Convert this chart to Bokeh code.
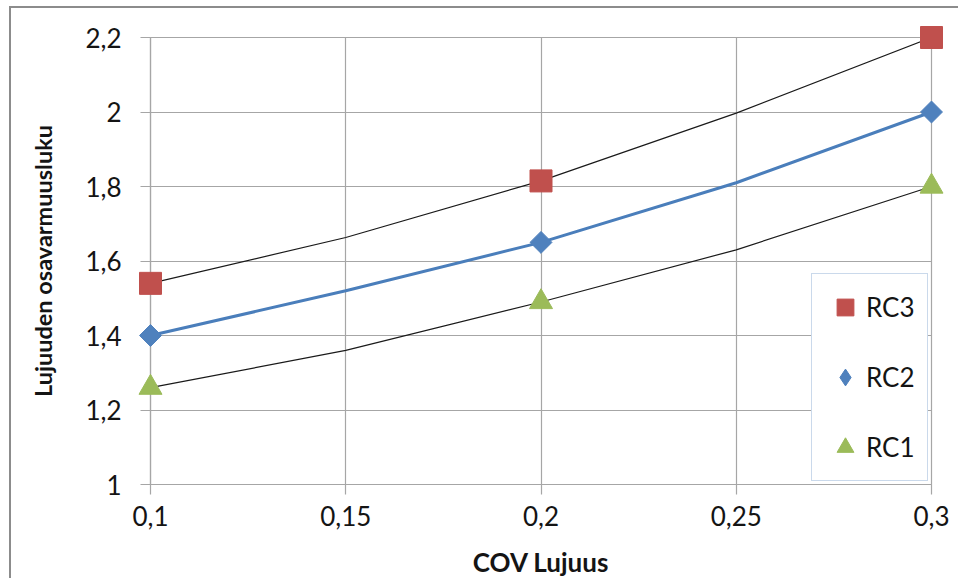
import math
from bokeh.plotting import figure
from bokeh.models import FixedTicker, Legend, LegendItem
from bokeh.embed import file_html
from bokeh.resources import INLINE

# ---- data ----
cov = [0.1, 0.2, 0.3]
rc3 = [1.54, 1.815, 2.2]
rc2 = [1.40, 1.65, 2.0]
rc1 = [1.26, 1.49, 1.80]

trend_x = [0.1, 0.15, 0.2, 0.25, 0.3]
rc3_trend = [1.54, 1.663, 1.815, 1.997, 2.2]
rc2_trend = [1.40, 1.52, 1.65, 1.81, 2.0]
rc1_trend = [1.26, 1.36, 1.49, 1.63, 1.80]

x_ticks = [0.1, 0.15, 0.2, 0.25, 0.3]
x_tick_labels = ["0,1", "0,15", "0,2", "0,25", "0,3"]
y_ticks = [1.0, 1.2, 1.4, 1.6, 1.8, 2.0, 2.2]
y_tick_labels = ["1", "1,2", "1,4", "1,6", "1,8", "2", "2,2"]

x_title = "COV Lujuus"
y_title = "Lujuuden osavarmuusluku"

# ---- styles ----
GRID = "#a6a6a6"
FONT = "Lato"
TEXT = "#141414"
RED = "#C0504D"
BLUE = "#4F81BD"
GREEN = "#9BBB59"

p = figure(width=949, height=572, x_range=(0.1, 0.3), y_range=(1.0, 2.2),
           output_backend="svg", toolbar_location=None,
           min_border_left=139, min_border_right=29,
           min_border_top=29, min_border_bottom=94)
p.margin = (6, 0, 0, 9)
p.styles = {"border-top": "2px solid #8c8c8c", "border-left": "2px solid #8c8c8c"}
p.outline_line_color = GRID
p.outline_line_width = 1.2

p.xgrid.ticker = FixedTicker(ticks=x_ticks)
p.ygrid.ticker = FixedTicker(ticks=y_ticks)
for g in (p.xgrid, p.ygrid):
    g.grid_line_color = GRID
    g.grid_line_width = 1.2

p.xaxis.ticker = FixedTicker(ticks=x_ticks)
p.yaxis.ticker = FixedTicker(ticks=y_ticks)
p.xaxis.major_label_overrides = dict(zip(x_ticks, x_tick_labels))
p.yaxis.major_label_overrides = dict(zip(y_ticks, y_tick_labels))

for ax in (p.xaxis, p.yaxis):
    ax.axis_line_color = GRID
    ax.axis_line_width = 1.2
    ax.major_tick_line_color = GRID
    ax.major_tick_line_width = 1.2
    ax.major_tick_out = 10
    ax.major_tick_in = 0
    ax.minor_tick_out = 0
    ax.minor_tick_in = 0
    ax.major_label_text_font = FONT
    ax.major_label_text_font_size = "26px"
    ax.major_label_text_color = TEXT
    ax.axis_label_text_font = FONT
    ax.axis_label_text_font_size = "26px"
    ax.axis_label_text_font_style = "bold"
    ax.axis_label_text_color = TEXT

p.yaxis.axis_label_text_font_size = "23.5px"
p.xaxis.axis_label = x_title
p.yaxis.axis_label = y_title
p.xaxis.major_label_standoff = 11
p.xaxis.axis_label_standoff = 17
p.yaxis.major_label_standoff = 19
p.yaxis.axis_label_standoff = 25

# trend lines
p.line(trend_x, rc3_trend, line_color="#1a1a1a", line_width=1.2)
p.line(trend_x, rc1_trend, line_color="#1a1a1a", line_width=1.2)
p.line(trend_x, rc2_trend, line_color="#4A7EBB", line_width=3)

# markers (overlay level so edge markers are not clipped)
r3 = p.scatter(cov, rc3, marker="square", size=22, fill_color=RED, line_color=RED, level="overlay")
r2_leg = p.scatter(cov, rc2, marker="diamond", size=20, fill_color=BLUE, line_color=BLUE, level="overlay")
p.scatter(cov, rc2, marker="square", angle=math.pi / 4, size=15.5,
          fill_color=BLUE, line_color=BLUE, level="overlay")
r1 = p.scatter(cov, rc1, marker="triangle", size=23, fill_color=GREEN, line_color=GREEN, level="overlay")

legend = Legend(items=[LegendItem(label="RC3", renderers=[r3]),
                       LegendItem(label="RC2", renderers=[r2_leg]),
                       LegendItem(label="RC1", renderers=[r1])],
                location=(661, 3))
legend.glyph_width = 42
legend.glyph_height = 42
legend.label_height = 42
legend.spacing = 28
legend.padding = 12
legend.margin = 0
legend.label_standoff = 0
legend.label_text_font = FONT
legend.label_text_font_size = "26px"
legend.label_text_color = TEXT
legend.border_line_color = "#95B3D7"
legend.border_line_width = 1.5
legend.background_fill_color = "white"
legend.background_fill_alpha = 1
p.add_layout(legend)

open("out.html", "w").write(file_html(p, INLINE))
